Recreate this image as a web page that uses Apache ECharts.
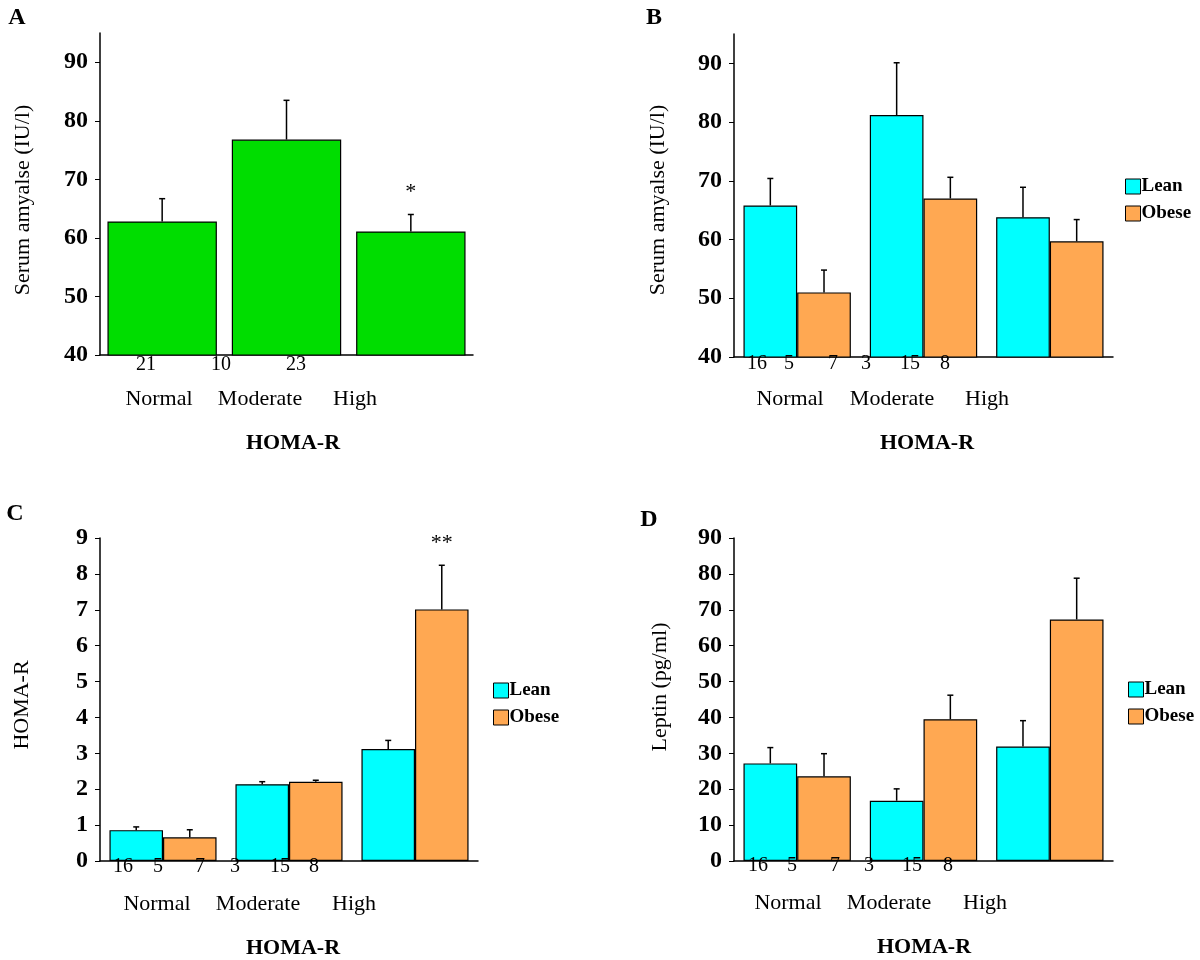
<!DOCTYPE html>
<html>
<head>
<meta charset="utf-8">
<script src="https://cdn.jsdelivr.net/npm/echarts@6/dist/echarts.min.js"></script>
<style>
  html, body { margin: 0; padding: 0; background: #fff; }
  #main { width: 1200px; height: 960px; }
</style>
</head>
<body>
<div id="main"></div>
<script>
var groups = ['Normal', 'Moderate', 'High']

// A: all subjects
var amylaseAll = [62.8, 76.8, 61.1]
var amylaseAllErr = [66.7, 83.5, 64.0]
var amylaseAllMark = ['', '', '*']
var countsA = ['21', '10', '23']

// B: serum amylase, lean / obese
var amylaseLean = [65.8, 81.2, 63.8]
var amylaseLeanErr = [70.4, 90.1, 68.9]
var amylaseObese = [51.0, 67.0, 59.7]
var amylaseObeseErr = [54.8, 70.6, 63.4]

// C: HOMA-R, lean / obese
var homaLean = [0.86, 2.14, 3.12]
var homaLeanErr = [0.95, 2.21, 3.36]
var homaObese = [0.66, 2.21, 7.01]
var homaObeseErr = [0.87, 2.25, 8.24]
var homaObeseMark = ['', '', '**']

// D: leptin, lean / obese
var leptinLean = [27.2, 16.8, 31.9]
var leptinLeanErr = [31.6, 20.1, 39.1]
var leptinObese = [23.6, 39.5, 67.3]
var leptinObeseErr = [29.9, 46.2, 78.8]

var countsBCD = ['16', '5', '7', '3', '15', '8']

var ticksAmylase = [40, 50, 60, 70, 80, 90]
var ticksHoma = [0, 1, 2, 3, 4, 5, 6, 7, 8, 9]
var ticksLeptin = [0, 10, 20, 30, 40, 50, 60, 70, 80, 90]

var SERIF = '"Liberation Serif", "Times New Roman", serif'
var LEAN = '#00FFFF'
var OBESE = '#FFA852'
var GREEN = '#00DD00'

var chart = echarts.init(document.getElementById('main'))

function xAx(grid) {
  return {
    type: 'category',
    gridIndex: grid,
    data: groups,
    axisLine: { lineStyle: { color: '#000', width: 1.5 } },
    axisTick: { alignWithLabel: true, length: 4, lineStyle: { color: '#000' } },
    axisLabel: { show: false },
    splitLine: { show: false }
  }
}

function yAx(grid, min, max, ticks) {
  return {
    type: 'value',
    gridIndex: grid,
    min: min,
    max: max,
    axisLine: { show: true, lineStyle: { color: '#000', width: 1.5 } },
    axisTick: { show: true, length: 5, customValues: ticks, lineStyle: { color: '#000' } },
    axisLabel: {
      customValues: ticks,
      margin: 12,
      color: '#000',
      fontFamily: SERIF,
      fontWeight: 'bold',
      fontSize: 24
    },
    splitLine: { show: false }
  }
}

function barSeries(name, grid, values, color, gap) {
  return {
    name: name,
    type: 'bar',
    xAxisIndex: grid,
    yAxisIndex: grid,
    data: values,
    barGap: 0,
    barCategoryGap: gap,
    itemStyle: { color: color, borderColor: '#000', borderWidth: 1.2 },
    emphasis: { disabled: true }
  }
}

/** 误差线：只画向上的一半 */
function errorSeries(grid, values, errs, marks, shift) {
  return {
    type: 'custom',
    xAxisIndex: grid,
    yAxisIndex: grid,
    z: 5,
    silent: true,
    data: values.map(function (v, i) { return [i, v, errs[i]] }),
    renderItem: function (params, api) {
      var band = api.size([1, 0])[0]
      var x = api.coord([api.value(0), api.value(1)])[0] + shift * band
      var y0 = api.coord([api.value(0), api.value(1)])[1]
      var y1 = api.coord([api.value(0), api.value(2)])[1]
      var children = [
        { type: 'line', shape: { x1: x, y1: y0, x2: x, y2: y1 }, style: { stroke: '#000', lineWidth: 1.5 } },
        { type: 'line', shape: { x1: x - 3, y1: y1, x2: x + 3, y2: y1 }, style: { stroke: '#000', lineWidth: 1.5 } }
      ]
      var mark = marks ? marks[params.dataIndex] : ''
      if (mark) {
        children.push({
          type: 'text',
          x: x,
          y: y1 - 22,
          style: { text: mark, font: '22px ' + SERIF, fill: '#000', align: 'center', verticalAlign: 'middle' }
        })
      }
      return { type: 'group', children: children }
    }
  }
}

function legendAt(left, top) {
  return {
    data: ['Lean', 'Obese'],
    orient: 'vertical',
    left: left,
    top: top,
    icon: 'rect',
    itemWidth: 15,
    itemHeight: 15,
    itemGap: 8,
    padding: 0,
    selectedMode: false,
    itemStyle: { borderColor: '#000', borderWidth: 1 },
    textStyle: { color: '#000', fontFamily: SERIF, fontWeight: 'bold', fontSize: 19, padding: [0, 0, 0, -4] }
  }
}

function txt(x, y, s, size, bold, rot) {
  return {
    type: 'text',
    x: x,
    y: y,
    z: 100,
    rotation: rot || 0,
    silent: true,
    style: {
      text: s,
      font: (bold ? 'bold ' : '') + size + 'px ' + SERIF,
      fill: '#000',
      align: 'center',
      verticalAlign: 'middle'
    }
  }
}

// 各面板文字位置
var countPosA = [[146, 365], [221, 365], [296, 365]]
var countPosB = [[757, 364], [789, 364], [833, 364], [866, 364], [910, 364], [945, 364]]
var countPosC = [[123, 867], [158, 867], [200, 867], [235, 867], [280, 867], [314, 867]]
var countPosD = [[758, 866], [792, 866], [835, 866], [869, 866], [912, 866], [948, 866]]
var groupPosA = [[159, 399], [260, 399], [355, 399]]
var groupPosB = [[790, 399], [892, 399], [987, 399]]
var groupPosC = [[157, 904], [258, 904], [354, 904]]
var groupPosD = [[788, 903], [889, 903], [985, 903]]

var graphics = []
function addLabels(texts, pos, size) {
  texts.forEach(function (t, i) {
    graphics.push(txt(pos[i][0], pos[i][1], t, size, false))
  })
}
addLabels(countsA, countPosA, 20)
addLabels(countsBCD, countPosB, 20)
addLabels(countsBCD, countPosC, 20)
addLabels(countsBCD, countPosD, 20)
addLabels(groups, groupPosA, 22)
addLabels(groups, groupPosB, 22)
addLabels(groups, groupPosC, 22)
addLabels(groups, groupPosD, 22)

graphics.push(txt(293, 443, 'HOMA-R', 22, true))
graphics.push(txt(927, 443, 'HOMA-R', 22, true))
graphics.push(txt(293, 948, 'HOMA-R', 22, true))
graphics.push(txt(924, 947, 'HOMA-R', 22, true))

graphics.push(txt(23, 200, 'Serum amyalse (IU/l)', 22, false, Math.PI / 2))
graphics.push(txt(658, 200, 'Serum amyalse (IU/l)', 22, false, Math.PI / 2))
graphics.push(txt(22, 705, 'HOMA-R', 22, false, Math.PI / 2))
graphics.push(txt(660, 687, 'Leptin (pg/ml)', 22, false, Math.PI / 2))

graphics.push(txt(17, 18, 'A', 24, true))
graphics.push(txt(654, 18, 'B', 24, true))
graphics.push(txt(15, 514, 'C', 24, true))
graphics.push(txt(649, 520, 'D', 24, true))

var option = {
  backgroundColor: '#fff',
  animation: false,
  textStyle: { fontFamily: SERIF },
  grid: [
    { left: 100, top: 33, width: 373, height: 322 },
    { left: 734, top: 34, width: 379, height: 323 },
    { left: 100, top: 538, width: 378, height: 323 },
    { left: 734, top: 538, width: 379, height: 323 }
  ],
  xAxis: [xAx(0), xAx(1), xAx(2), xAx(3)],
  yAxis: [
    yAx(0, 40, 95, ticksAmylase),
    yAx(1, 40, 95, ticksAmylase),
    yAx(2, 0, 9, ticksHoma),
    yAx(3, 0, 90, ticksLeptin)
  ],
  legend: [legendAt(1125, 177), legendAt(493, 681), legendAt(1128, 680)],
  series: [
    barSeries('All', 0, amylaseAll, GREEN, '12%'),
    errorSeries(0, amylaseAll, amylaseAllErr, amylaseAllMark, 0),

    barSeries('Lean', 1, amylaseLean, LEAN, '15%'),
    barSeries('Obese', 1, amylaseObese, OBESE, '15%'),
    errorSeries(1, amylaseLean, amylaseLeanErr, null, -0.2125),
    errorSeries(1, amylaseObese, amylaseObeseErr, null, 0.2125),

    barSeries('Lean', 2, homaLean, LEAN, '15%'),
    barSeries('Obese', 2, homaObese, OBESE, '15%'),
    errorSeries(2, homaLean, homaLeanErr, null, -0.2125),
    errorSeries(2, homaObese, homaObeseErr, homaObeseMark, 0.2125),

    barSeries('Lean', 3, leptinLean, LEAN, '15%'),
    barSeries('Obese', 3, leptinObese, OBESE, '15%'),
    errorSeries(3, leptinLean, leptinLeanErr, null, -0.2125),
    errorSeries(3, leptinObese, leptinObeseErr, null, 0.2125)
  ],
  graphic: graphics
}

chart.setOption(option)
</script>
</body>
</html>
